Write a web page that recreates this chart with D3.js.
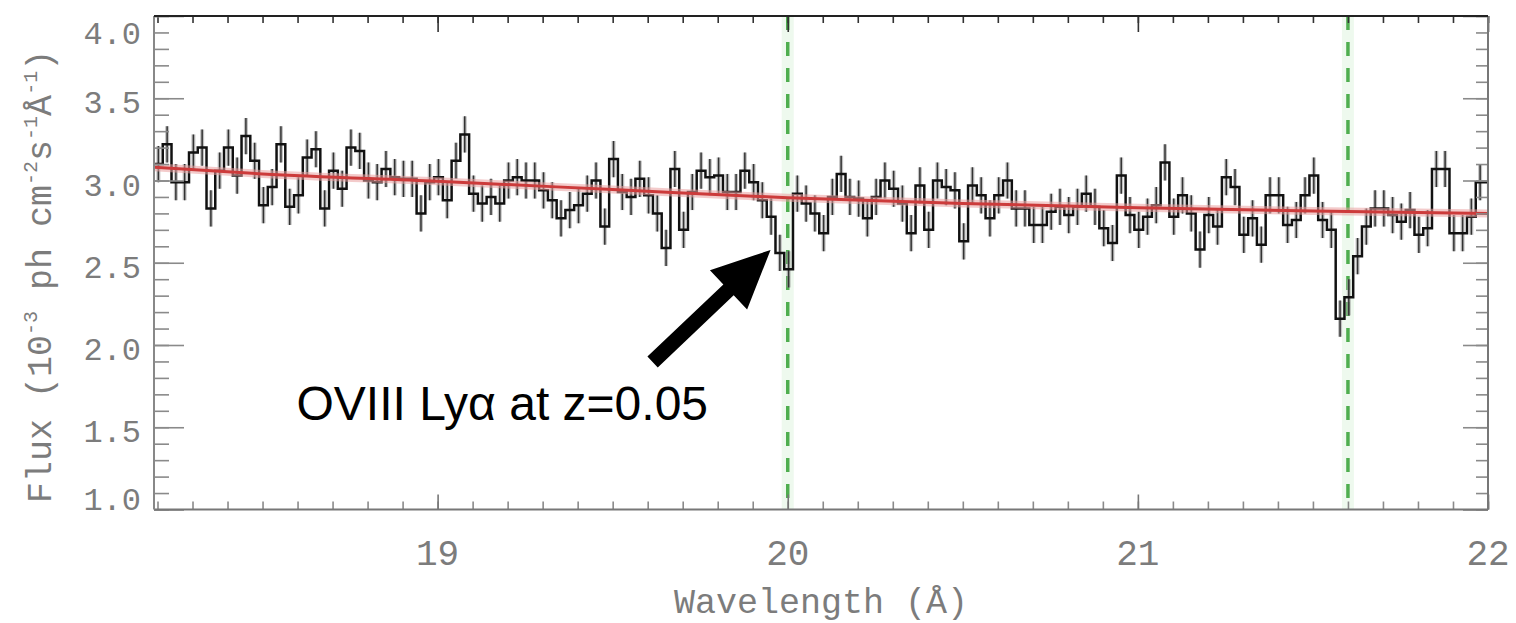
<!DOCTYPE html>
<html>
<head>
<meta charset="utf-8">
<script src="https://cdn.jsdelivr.net/npm/d3@7"></script>
<style>
  html, body { margin: 0; padding: 0; background: #fff; }
  svg { display: block; }
  .lbl { font-family: "Liberation Mono", "DejaVu Sans Mono", monospace; fill: #7c7c7c; }
</style>
</head>
<body>
<svg id="chart" width="1516" height="623"></svg>
<script>
// spectrum bins: first bin starts at binStart, all bins binWidth wide (Angstrom)
const binStart = 18.19;
const binWidth = 0.025;
// flux per bin, 10^-3 ph cm^-2 s^-1 A^-1
const flux = [
  3.10, 3.22, 2.99, 2.99, 3.17, 3.20, 2.83, 3.06, 3.20, 3.03,
  3.27, 3.12, 2.85, 2.96, 3.22, 2.84, 2.91, 3.14, 3.19, 2.83,
  3.06, 2.95, 3.20, 3.18, 3.00, 2.99, 3.07, 3.02, 3.01, 3.01,
  2.80, 2.99, 3.02, 2.88, 3.12, 3.28, 2.92, 2.86, 2.90, 2.86,
  3.00, 3.02, 3.00, 3.00, 2.94, 2.88, 2.77, 2.82, 2.85, 2.92,
  3.00, 2.72, 3.13, 2.93, 2.90, 3.01, 2.91, 2.80, 2.59, 3.07,
  2.70, 2.93, 3.06, 3.02, 3.03, 2.93, 2.93, 3.06, 2.99, 2.88,
  2.78, 2.56, 2.46, 2.92, 2.86, 2.80, 2.68, 2.90, 3.04, 2.90,
  2.89, 2.77, 2.90, 3.00, 2.95, 2.86, 2.68, 2.97, 2.70, 3.00,
  2.96, 2.94, 2.63, 2.97, 2.91, 2.77, 2.91, 3.00, 2.83, 2.83,
  2.73, 2.73, 2.81, 2.84, 2.79, 2.84, 2.92, 2.84, 2.71, 2.62,
  3.03, 2.79, 2.70, 2.78, 2.85, 3.11, 2.78, 2.91, 2.80, 2.58,
  2.79, 2.72, 3.02, 2.96, 2.67, 2.77, 2.61, 2.91, 2.91, 2.73,
  2.76, 2.91, 3.03, 2.76, 2.70, 2.16, 2.29, 2.54, 2.72, 2.83,
  2.83, 2.79, 2.75, 2.82, 2.67, 2.71, 3.07, 3.07, 2.68, 2.68,
  2.78, 2.99, 2.99
];
const fluxErr = 0.11;

// continuum model
const modelWave = [18.19, 18.5, 19.0, 19.5, 20.0, 20.5, 21.0, 21.5, 22.0];
const modelFlux = [3.08, 3.04, 2.995, 2.945, 2.895, 2.86, 2.835, 2.815, 2.80];

// absorption line markers
const lineWaves = [20.0, 21.6];

const xTickLabels = [19, 20, 21, 22];
const yTickLabels = [1.0, 1.5, 2.0, 2.5, 3.0, 3.5, 4.0];

const annotation = {text: 'OVIII Ly\u03b1 at z=0.05', wave: 18.597, flux: 1.544};
const arrow = {fromWave: 19.614, fromFlux: 1.897, toWave: 19.951, toFlux: 2.578};

const margin = {left: 154, right: 28, top: 16, bottom: 113.5};
const W = 1516, H = 623;

const svg = d3.select('#chart');
svg.append('rect').attr('width', W).attr('height', H).attr('fill', '#fff');

const x = d3.scaleLinear().domain([18.19, 22]).range([margin.left, W - margin.right]);
const y = d3.scaleLinear().domain([1.0, 4.0]).range([H - margin.bottom, margin.top]);

const [x0, x1] = x.range();
const [y0, y1] = y.range();

svg.append('clipPath').attr('id', 'plot')
  .append('rect')
  .attr('x', x0).attr('y', y1)
  .attr('width', x1 - x0).attr('height', y0 - y1);

const plot = svg.append('g').attr('clip-path', 'url(#plot)');

// green dashed marker lines
lineWaves.forEach(w => {
  plot.append('rect')
    .attr('x', x(w) - 6).attr('y', y1)
    .attr('width', 12).attr('height', y0 - y1)
    .attr('fill', '#9fe09f').attr('opacity', 0.18);
  plot.append('line')
    .attr('x1', x(w)).attr('x2', x(w))
    .attr('y1', y1).attr('y2', y0)
    .attr('stroke', '#4fae4f')
    .attr('stroke-width', 3.5)
    .attr('stroke-dasharray', '14,12');
});

// error bars
const errG = plot.append('g');
flux.forEach((v, i) => {
  const cx = x(binStart + binWidth * (i + 0.5));
  errG.append('line')
    .attr('x1', cx).attr('x2', cx)
    .attr('y1', y(v - fluxErr)).attr('y2', y(v + fluxErr))
    .attr('stroke', '#9a9a9a').attr('stroke-width', 4).attr('opacity', 0.6);
  errG.append('line')
    .attr('x1', cx).attr('x2', cx)
    .attr('y1', y(v - fluxErr)).attr('y2', y(v + fluxErr))
    .attr('stroke', '#333').attr('stroke-width', 1.5);
});

// histogram
const steps = flux.map((v, i) => [binStart + binWidth * i, v]);
steps.push([binStart + binWidth * flux.length, flux[flux.length - 1]]);

const stepLine = d3.line()
  .x(d => x(d[0]))
  .y(d => y(d[1]))
  .curve(d3.curveStepAfter);

plot.append('path')
  .attr('d', stepLine(steps))
  .attr('fill', 'none')
  .attr('stroke', '#111')
  .attr('stroke-width', 2.5);

// model
const modelLine = d3.line()
  .x((d, i) => x(modelWave[i]))
  .y(d => y(d))
  .curve(d3.curveMonotoneX);

plot.append('path')
  .attr('d', modelLine(modelFlux))
  .attr('fill', 'none')
  .attr('stroke', '#eaa0a0')
  .attr('stroke-width', 8)
  .attr('opacity', 0.55);
plot.append('path')
  .attr('d', modelLine(modelFlux))
  .attr('fill', 'none')
  .attr('stroke', '#cc3b3b')
  .attr('stroke-width', 3);

// axes
const minorX = d3.range(182, 221).map(d => d / 10).filter(d => d >= 18.19);
const minorY = d3.range(10, 41).map(d => d / 10);

function styleAxis(g, color) {
  g.select('.domain').remove();
  g.selectAll('text').remove();
  g.selectAll('line').attr('stroke', color).attr('stroke-width', 1.6);
}

svg.append('g').attr('transform', `translate(0,${y0})`)
  .call(d3.axisBottom(x).tickValues(minorX).tickSize(-8))
  .call(g => styleAxis(g, '#8a8a8a'));
svg.append('g').attr('transform', `translate(0,${y0})`)
  .call(d3.axisBottom(x).tickValues(xTickLabels).tickSize(-15))
  .call(g => styleAxis(g, '#777'));

svg.append('g').attr('transform', `translate(0,${y1})`)
  .call(d3.axisTop(x).tickValues(minorX).tickSize(-7))
  .call(g => styleAxis(g, '#333'));
svg.append('g').attr('transform', `translate(0,${y1})`)
  .call(d3.axisTop(x).tickValues(xTickLabels).tickSize(-16))
  .call(g => styleAxis(g, '#333'));

svg.append('g').attr('transform', `translate(${x0},0)`)
  .call(d3.axisLeft(y).tickValues(minorY).tickSize(-15))
  .call(g => styleAxis(g, '#8a8a8a'));
svg.append('g').attr('transform', `translate(${x0},0)`)
  .call(d3.axisLeft(y).tickValues(yTickLabels).tickSize(-30))
  .call(g => styleAxis(g, '#8a8a8a'));

svg.append('g').attr('transform', `translate(${x1},0)`)
  .call(d3.axisRight(y).tickValues(minorY).tickSize(-12))
  .call(g => styleAxis(g, '#8a8a8a'));
svg.append('g').attr('transform', `translate(${x1},0)`)
  .call(d3.axisRight(y).tickValues(yTickLabels).tickSize(-25))
  .call(g => styleAxis(g, '#8a8a8a'));

// frame
svg.append('line').attr('x1', x0).attr('x2', x1).attr('y1', y0).attr('y2', y0)
  .attr('stroke', '#777').attr('stroke-width', 2);
svg.append('line').attr('x1', x0).attr('x2', x0).attr('y1', y1).attr('y2', y0)
  .attr('stroke', '#888').attr('stroke-width', 2);
svg.append('line').attr('x1', x1).attr('x2', x1).attr('y1', y1).attr('y2', y0)
  .attr('stroke', '#777').attr('stroke-width', 2);
svg.append('line').attr('x1', x0).attr('x2', x1).attr('y1', y1).attr('y2', y1)
  .attr('stroke', '#222').attr('stroke-width', 2.2);

// tick labels
svg.append('g').selectAll('text').data(xTickLabels).join('text')
  .attr('class', 'lbl')
  .attr('x', d => x(d))
  .attr('y', 565)
  .attr('text-anchor', 'middle')
  .attr('font-size', 36)
  .text(d => d);

const yShift = {1: -15, 4: 13};
svg.append('g').selectAll('text').data(yTickLabels).join('text')
  .attr('class', 'lbl')
  .attr('x', 141)
  .attr('y', d => y(d) + 15 + (yShift[d] || 0))
  .attr('text-anchor', 'end')
  .attr('font-size', 32)
  .text(d => d.toFixed(1));

// axis titles
svg.append('text')
  .attr('class', 'lbl')
  .attr('x', (x0 + x1) / 2)
  .attr('y', 613)
  .attr('text-anchor', 'middle')
  .attr('font-size', 35)
  .text('Wavelength (\u00c5)');

// y title, written bottom-up from the lower end of the axis
const yt = svg.append('text')
  .attr('class', 'lbl')
  .attr('transform', `translate(51,503) rotate(-90)`)
  .attr('text-anchor', 'start')
  .attr('font-size', 35);
const parts = [
  ['Flux (10', false], ['-3', true], [' ph cm', false], ['-2', true],
  ['s', false], ['-1', true], ['\u00c5', false], ['-1', true], [')', false]
];
let lifted = false;
parts.forEach(([t, sup]) => {
  const dy = sup ? (lifted ? 0 : -14) : (lifted ? 14 : 0);
  lifted = sup;
  yt.append('tspan')
    .attr('font-size', sup ? 20 : 35)
    .attr('dy', dy)
    .text(t);
});

// annotation
const ax1 = x(arrow.fromWave), ay1 = y(arrow.fromFlux);
const ax2 = x(arrow.toWave), ay2 = y(arrow.toFlux);
const len = Math.hypot(ax2 - ax1, ay2 - ay1);
const ux = (ax2 - ax1) / len, uy = (ay2 - ay1) / len;
const nx = -uy, ny = ux;
const headLen = 58, headHalf = 27, shaftHalf = 7.5;
const bx = ax2 - ux * headLen, by = ay2 - uy * headLen;
const arrowPts = [
  [ax1 + nx * shaftHalf, ay1 + ny * shaftHalf],
  [bx + nx * shaftHalf, by + ny * shaftHalf],
  [bx + nx * headHalf, by + ny * headHalf],
  [ax2, ay2],
  [bx - nx * headHalf, by - ny * headHalf],
  [bx - nx * shaftHalf, by - ny * shaftHalf],
  [ax1 - nx * shaftHalf, ay1 - ny * shaftHalf]
];
svg.append('path')
  .attr('d', d3.line()(arrowPts) + 'Z')
  .attr('fill', '#000');

svg.append('text')
  .attr('x', x(annotation.wave))
  .attr('y', y(annotation.flux))
  .attr('font-family', '"Liberation Sans", Arial, sans-serif')
  .attr('font-size', 48)
  .attr('fill', '#000')
  .text(annotation.text);
</script>
</body>
</html>
